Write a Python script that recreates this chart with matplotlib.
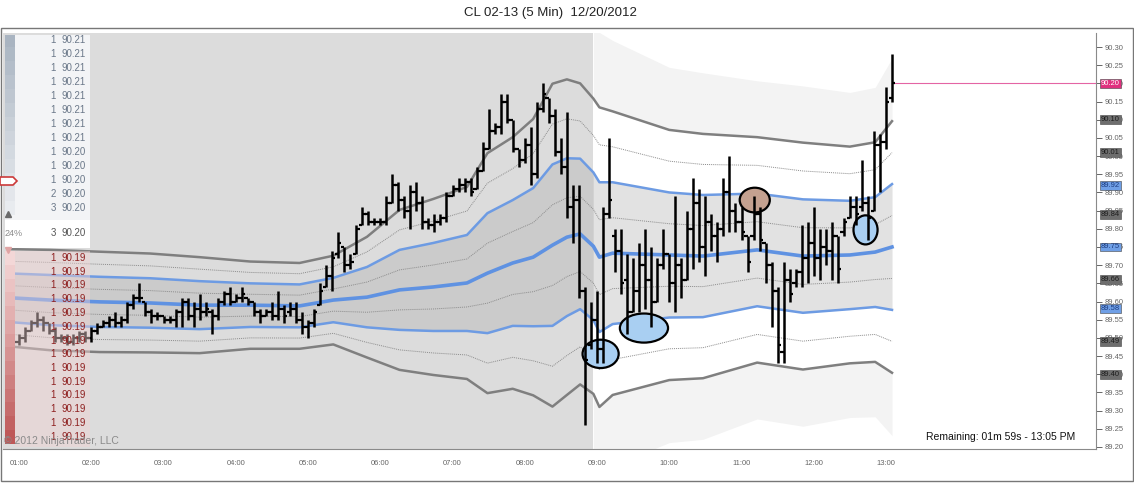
import numpy as np
import matplotlib
matplotlib.use('Agg')
import matplotlib.pyplot as plt
import matplotlib.transforms as mtransforms
from matplotlib.patches import Ellipse, Rectangle, Polygon

plt.rcParams['font.family'] = ['Liberation Sans', 'DejaVu Sans']

W, H = 1134, 483

# 5 min bars, first bar 00:55
first_bar = "00:55"
highs = [89.50, 89.51, 89.53, 89.55, 89.57, 89.56, 89.54, 89.53, 89.51, 89.51,
         89.51, 89.52, 89.52, 89.53, 89.54, 89.55, 89.56, 89.57, 89.56, 89.60,
         89.62, 89.65, 89.60, 89.58, 89.57, 89.56, 89.56, 89.58, 89.61, 89.61,
         89.60, 89.62, 89.60, 89.58, 89.61, 89.63, 89.64, 89.62, 89.64, 89.61,
         89.60, 89.58, 89.58, 89.60, 89.63, 89.59, 89.60, 89.60, 89.57, 89.55,
         89.58, 89.65, 89.70, 89.74, 89.79, 89.75, 89.73, 89.81, 89.86, 89.85,
         89.83, 89.83, 89.89, 89.95, 89.93, 89.89, 89.92, 89.93, 89.89, 89.83,
         89.84, 89.84, 89.90, 89.92, 89.94, 89.94, 89.94, 89.97, 90.04, 90.13,
         90.09, 90.17, 90.17, 90.10, 90.02, 90.05, 90.08, 90.15, 90.20, 90.16,
         90.13, 90.05, 90.12, 89.92, 89.92, 89.64, 89.60, 89.63, 89.86, 90.05,
         89.80, 89.80, 89.73, 89.72, 89.76, 89.80, 89.75, 89.72, 89.80, 89.73,
         89.89, 89.72, 89.85, 89.94, 89.91, 89.89, 89.84, 89.82, 89.94, 90.00,
         89.87, 89.86, 89.78, 89.89, 89.86, 89.76, 89.71, 89.64, 89.71, 89.69,
         89.69, 89.81, 89.82, 89.86, 89.80, 89.80, 89.82, 89.78, 89.83, 89.89,
         89.89, 89.99, 89.89, 90.07, 90.06, 90.19, 90.28]
lows = [89.47, 89.48, 89.49, 89.52, 89.53, 89.52, 89.51, 89.49, 89.49, 89.48,
        89.48, 89.49, 89.49, 89.49, 89.51, 89.53, 89.53, 89.53, 89.53, 89.54,
        89.58, 89.60, 89.56, 89.54, 89.55, 89.54, 89.54, 89.53, 89.53, 89.55,
        89.53, 89.55, 89.56, 89.51, 89.55, 89.59, 89.59, 89.60, 89.60, 89.59,
        89.56, 89.54, 89.56, 89.55, 89.55, 89.54, 89.56, 89.54, 89.51, 89.50,
        89.53, 89.59, 89.64, 89.63, 89.72, 89.68, 89.69, 89.73, 89.81, 89.81,
        89.81, 89.81, 89.81, 89.87, 89.85, 89.83, 89.80, 89.85, 89.80, 89.80,
        89.79, 89.81, 89.82, 89.89, 89.90, 89.90, 89.89, 89.91, 89.96, 90.02,
        90.06, 90.06, 90.09, 90.01, 89.97, 89.98, 89.92, 89.94, 90.12, 90.09,
        90.00, 89.95, 89.83, 89.76, 89.61, 89.26, 89.47, 89.43, 89.43, 89.83,
        89.68, 89.62, 89.51, 89.57, 89.57, 89.58, 89.53, 89.60, 89.69, 89.60,
        89.57, 89.61, 89.66, 89.69, 89.71, 89.67, 89.74, 89.71, 89.78, 89.79,
        89.79, 89.77, 89.68, 89.77, 89.74, 89.65, 89.53, 89.43, 89.43, 89.60,
        89.64, 89.64, 89.65, 89.67, 89.66, 89.70, 89.66, 89.65, 89.78, 89.83,
        89.81, 89.85, 89.77, 89.85, 89.90, 90.02, 90.15]
opens = [89.48, 89.49, 89.50, 89.52, 89.54, 89.55, 89.54, 89.52, 89.50, 89.50,
         89.49, 89.50, 89.51, 89.50, 89.52, 89.53, 89.54, 89.55, 89.54, 89.55,
         89.59, 89.61, 89.60, 89.57, 89.56, 89.56, 89.55, 89.55, 89.57, 89.60,
         89.56, 89.58, 89.57, 89.57, 89.56, 89.60, 89.62, 89.60, 89.61, 89.61,
         89.60, 89.57, 89.56, 89.57, 89.56, 89.58, 89.57, 89.58, 89.55, 89.53,
         89.54, 89.59, 89.64, 89.67, 89.73, 89.75, 89.70, 89.73, 89.81, 89.84,
         89.82, 89.82, 89.82, 89.87, 89.92, 89.88, 89.85, 89.90, 89.87, 89.82,
         89.81, 89.82, 89.83, 89.89, 89.91, 89.92, 89.93, 89.91, 89.96, 90.02,
         90.07, 90.08, 90.15, 90.10, 90.02, 89.99, 90.03, 89.95, 90.13, 90.16,
         90.11, 90.01, 89.97, 89.86, 89.88, 89.63, 89.48, 89.55, 89.47, 89.84,
         89.78, 89.74, 89.66, 89.57, 89.63, 89.70, 89.66, 89.60, 89.70, 89.73,
         89.65, 89.70, 89.66, 89.80, 89.87, 89.75, 89.82, 89.78, 89.80, 89.90,
         89.85, 89.82, 89.78, 89.78, 89.84, 89.76, 89.70, 89.63, 89.46, 89.66,
         89.65, 89.68, 89.72, 89.76, 89.72, 89.75, 89.74, 89.78, 89.79, 89.83,
         89.86, 89.86, 89.87, 89.85, 90.03, 90.04, 90.16]
closes = [89.49, 89.50, 89.52, 89.54, 89.55, 89.54, 89.52, 89.50, 89.50, 89.49,
          89.50, 89.51, 89.50, 89.52, 89.53, 89.54, 89.55, 89.54, 89.55, 89.59,
          89.61, 89.61, 89.57, 89.56, 89.56, 89.55, 89.55, 89.57, 89.60, 89.56,
          89.58, 89.57, 89.58, 89.56, 89.60, 89.62, 89.60, 89.61, 89.62, 89.60,
          89.57, 89.56, 89.57, 89.56, 89.58, 89.56, 89.58, 89.55, 89.53, 89.54,
          89.57, 89.63, 89.67, 89.72, 89.76, 89.70, 89.71, 89.80, 89.84, 89.82,
          89.82, 89.82, 89.87, 89.92, 89.88, 89.85, 89.90, 89.87, 89.82, 89.81,
          89.82, 89.83, 89.89, 89.91, 89.92, 89.93, 89.90, 89.96, 90.02, 90.07,
          90.08, 90.15, 90.10, 90.02, 89.99, 90.03, 89.95, 90.13, 90.17, 90.11,
          90.01, 89.97, 89.86, 89.88, 89.63, 89.44, 89.55, 89.47, 89.84, 89.88,
          89.74, 89.65, 89.57, 89.63, 89.70, 89.66, 89.60, 89.70, 89.73, 89.65,
          89.70, 89.66, 89.80, 89.87, 89.75, 89.82, 89.78, 89.80, 89.90, 89.85,
          89.82, 89.79, 89.71, 89.84, 89.77, 89.70, 89.63, 89.48, 89.66, 89.62,
          89.68, 89.72, 89.76, 89.72, 89.75, 89.74, 89.78, 89.69, 89.82, 89.86,
          89.84, 89.87, 89.83, 90.03, 90.04, 90.15, 90.20]

# VWAP and standard deviation
band_times = ["00:54", "01:26", "02:07", "02:49", "03:30", "04:12", "04:53",
              "05:21", "05:49", "06:16", "06:44", "07:12", "07:29", "07:50",
              "08:07", "08:23", "08:35", "08:46", "08:57", "09:02", "09:13",
              "10:00", "10:28", "11:13", "11:51", "12:30", "12:51", "13:05"]
vwap = [89.610, 89.604, 89.599, 89.596, 89.590, 89.590, 89.588,
        89.604, 89.612, 89.632, 89.640, 89.651, 89.678, 89.706,
        89.722, 89.755, 89.777, 89.786, 89.752, 89.722, 89.733,
        89.728, 89.725, 89.742, 89.725, 89.728, 89.736, 89.750]
sigma = [0.067, 0.069, 0.069, 0.068, 0.066, 0.060, 0.059,
         0.061, 0.083, 0.110, 0.121, 0.132, 0.165, 0.173,
         0.190, 0.222, 0.217, 0.207, 0.203, 0.206, 0.195,
         0.172, 0.168, 0.155, 0.156, 0.149, 0.151, 0.173]
session_break = "08:57"

# price tags on the right axis
tag_values = [90.20, 90.10, 90.01, 89.92, 89.84, 89.75, 89.66, 89.58, 89.49, 89.40]
tag_kinds = ['last', 'gray', 'gray', 'blue', 'gray', 'blue', 'gray', 'blue', 'gray', 'gray']

# hand drawn ellipses (centre time, centre price, width min, height price, colour)
marks = [("09:03", 89.456, 30, 0.078, '#a9cff2'),
         ("09:39", 89.527, 40, 0.080, '#a9cff2'),
         ("11:11", 89.879, 25, 0.068, '#c4a190'),
         ("12:43", 89.797, 20, 0.080, '#a9cff2')]

# DOM ladder
ladder_top_size = [1, 1, 1, 1, 1, 1, 1, 1, 1, 1, 1, 2, 3]
ladder_top_price = ["90.21"] * 8 + ["90.20"] * 5
ladder_mid = ("24%", 3, "90.20")
ladder_bot_size = [1] * 14
ladder_bot_price = ["90.19"] * 14

hour_labels = ["01:00", "02:00", "03:00", "04:00", "05:00", "06:00", "07:00",
               "08:00", "09:00", "10:00", "11:00", "12:00", "13:00"]


def to_min(s):
    h, m = s.split(':')
    return int(h) * 60 + int(m)


t_bars = to_min(first_bar) + 5 * np.arange(len(highs))
tb = np.array([to_min(s) for s in band_times])
vw = np.array(vwap)
sd = np.array(sigma)
brk = to_min(session_break)

fig = plt.figure(figsize=(W / 100, H / 100), dpi=100)
fig.patch.set_facecolor('white')

# plot area in pixels: x 3..1096, y 33..449
ax = fig.add_axes([3 / W, 1 - 449 / H, 1093 / W, 416 / H])
x_left = 60 + (3 - 19) / 72.25 * 60
x_right = 60 + (1096 - 19) / 72.25 * 60
ax.set_xlim(x_left, x_right)
ax.set_ylim(90.30 - 402 / 363.6, 90.30 + 14 / 363.6)
ax.set_facecolor('white')

# session shading
ax.axvspan(x_left, brk, color='#dcdcdc', lw=0, zorder=0)
left = tb <= brk
right = tb >= brk
ax.fill_between(tb, vw - sd, vw + sd, where=left, color='#cbcbcb', lw=0, zorder=1)
ax.fill_between(tb, vw - sd, vw + sd, where=right, color='#e2e2e2', lw=0, zorder=1)
ax.fill_between(tb, vw + 2 * sd, vw + 3 * sd, where=right, color='#f3f3f3', lw=0, zorder=1)
ax.fill_between(tb, vw - 3 * sd, vw - 2 * sd, where=right, color='#f3f3f3', lw=0, zorder=1)

# bands
for k in [2, -2]:
    ax.plot(tb, vw + k * sd, color='#7f7f7f', lw=1.8, zorder=2)
for k in [1.5, 0.5, -0.5, -1.5]:
    ax.plot(tb, vw + k * sd, color='#8c8c8c', lw=0.7, ls=(0, (1, 1)), zorder=2)
for k in [1, -1]:
    ax.plot(tb, vw + k * sd, color='#6d9be3', lw=1.8, zorder=2)
ax.plot(tb, vw, color='#5f92e2', lw=2.6, zorder=2)

# ellipses
for tc, pc, wm, hp, col in marks:
    ax.add_patch(Ellipse((to_min(tc), pc), wm, hp, facecolor=col, edgecolor='black',
                         lw=1.6, zorder=3))

# OHLC bars
ax.vlines(t_bars, lows, highs, color='black', lw=1.8, zorder=4)
ax.hlines(opens, t_bars - 2.8, t_bars, color='black', lw=1.6, zorder=4)
ax.hlines(closes, t_bars, t_bars + 2.8, color='black', lw=1.6, zorder=4)

# last price line
ax.hlines(closes[-1], t_bars[-1], x_right, color='#e464a4', lw=0.8, zorder=3)

# axes
for s in ['top', 'left']:
    ax.spines[s].set_visible(False)
ax.spines['right'].set_color('#8a8a8a')
ax.spines['bottom'].set_color('#8a8a8a')
ax.yaxis.tick_right()
ax.set_yticks(np.round(np.arange(89.20, 90.301, 0.05), 2))
ax.yaxis.set_major_formatter(matplotlib.ticker.FormatStrFormatter('%.2f'))
ax.tick_params(axis='y', direction='out', length=4, width=0.7, labelsize=5.5,
               pad=2, colors='#666666')
ax.set_xticks([to_min(s) for s in hour_labels])
ax.set_xticklabels(hour_labels)
ax.tick_params(axis='x', direction='out', length=0, labelsize=5.5, pad=8,
               colors='#666666')

tag_style = {'last': ('#e0307e', 'white'), 'gray': ('#6e6e6e', '#1e1e1e'),
             'blue': ('#6f9fe6', '#1c3c80')}
trans = mtransforms.blended_transform_factory(ax.transAxes, ax.transData)
for v, kind in zip(tag_values, tag_kinds):
    fc, tc = tag_style[kind]
    ax.text(1.0045, v, f'{v:.2f}', transform=trans, fontsize=5.5, color=tc,
            va='center', ha='left', zorder=6, clip_on=False,
            bbox=dict(boxstyle='square,pad=0.12', fc=fc, ec='#444444', lw=0.4))

# DOM ladder overlay (pixel coordinates)
lad = fig.add_axes([5 / W, 1 - 447 / H, 85 / W, 412 / H], zorder=5)
lad.set_xlim(0, 85)
lad.set_ylim(447, 35)
lad.axis('off')
lad.patch.set_alpha(0)

lad.add_patch(Rectangle((0, 35), 85, 185, fc='#f5f6f8', ec='none', alpha=0.95))
n_top = len(ladder_top_size)
c0 = np.array([169, 180, 193]) / 255
c1 = np.array([232, 235, 239]) / 255
for k, (sz, pr) in enumerate(zip(ladder_top_size, ladder_top_price)):
    yc = 40 + 14 * k
    f = k / (n_top - 1)
    lad.add_patch(Rectangle((0, yc - 7), 10, 14, fc=c0 + (c1 - c0) * f, ec='none'))
    lad.text(51, yc, str(sz), fontsize=7, color='#6b7889', ha='right', va='center')
    lad.text(57, yc, pr, fontsize=7, color='#6b7889', ha='left', va='center')

lad.add_patch(Rectangle((0, 220), 85, 28, fc='white', ec='none'))
lad.text(0, 233, ladder_mid[0], fontsize=6.5, color='#8a8a8a', ha='left', va='center')
lad.text(51, 233, str(ladder_mid[1]), fontsize=7, color='#555555', ha='right', va='center')
lad.text(57, 233, ladder_mid[2], fontsize=7, color='#555555', ha='left', va='center')
lad.plot([3], [214], marker='^', ms=5, color='#6a6a6a', clip_on=False)
lad.plot([3], [250], marker='v', ms=5, color='#e0a4a4', clip_on=False)
lad.add_patch(Polygon([(-5, 177), (8, 177), (12, 181), (8, 185), (-5, 185)],
                      closed=True, fc='white', ec='#cc3a3a', lw=1.2, clip_on=False))

lad.add_patch(Rectangle((10, 251), 75, 196, fc='#f1d2d2', ec='none', alpha=0.45))
n_bot = len(ladder_bot_size)
r0 = np.array([243, 215, 215]) / 255
r1 = np.array([190, 88, 88]) / 255
for k, (sz, pr) in enumerate(zip(ladder_bot_size, ladder_bot_price)):
    yc = 258 + 13.75 * k
    f = k / (n_bot - 1)
    lad.add_patch(Rectangle((0, yc - 6.9), 10, 13.8, fc=r0 + (r1 - r0) * f, ec='none'))
    lad.text(51, yc, str(sz), fontsize=7, color='#8e1f1f', ha='right', va='center')
    lad.text(57, yc, pr, fontsize=7, color='#8e1f1f', ha='left', va='center')

# texts
fig.text(550 / W, 1 - 13 / H, 'CL 02-13 (5 Min)  12/20/2012', ha='center',
         va='center', fontsize=9.5, color='#222222')
fig.text(4 / W, 1 - 441 / H, '\u00a9 2012 NinjaTrader, LLC', ha='left', va='center',
         fontsize=7.5, color='#8a8a8a', zorder=10)
fig.text(1075 / W, 1 - 437 / H, 'Remaining: 01m 59s - 13:05 PM', ha='right',
         va='center', fontsize=7.5, color='#111111')

# outer frame
fig.add_artist(Rectangle((1 / W, 1 - 481 / H), 1132 / W, 453 / H,
                         transform=fig.transFigure, fill=False, ec='#777777', lw=1))

fig.savefig('out.png', dpi=100)
